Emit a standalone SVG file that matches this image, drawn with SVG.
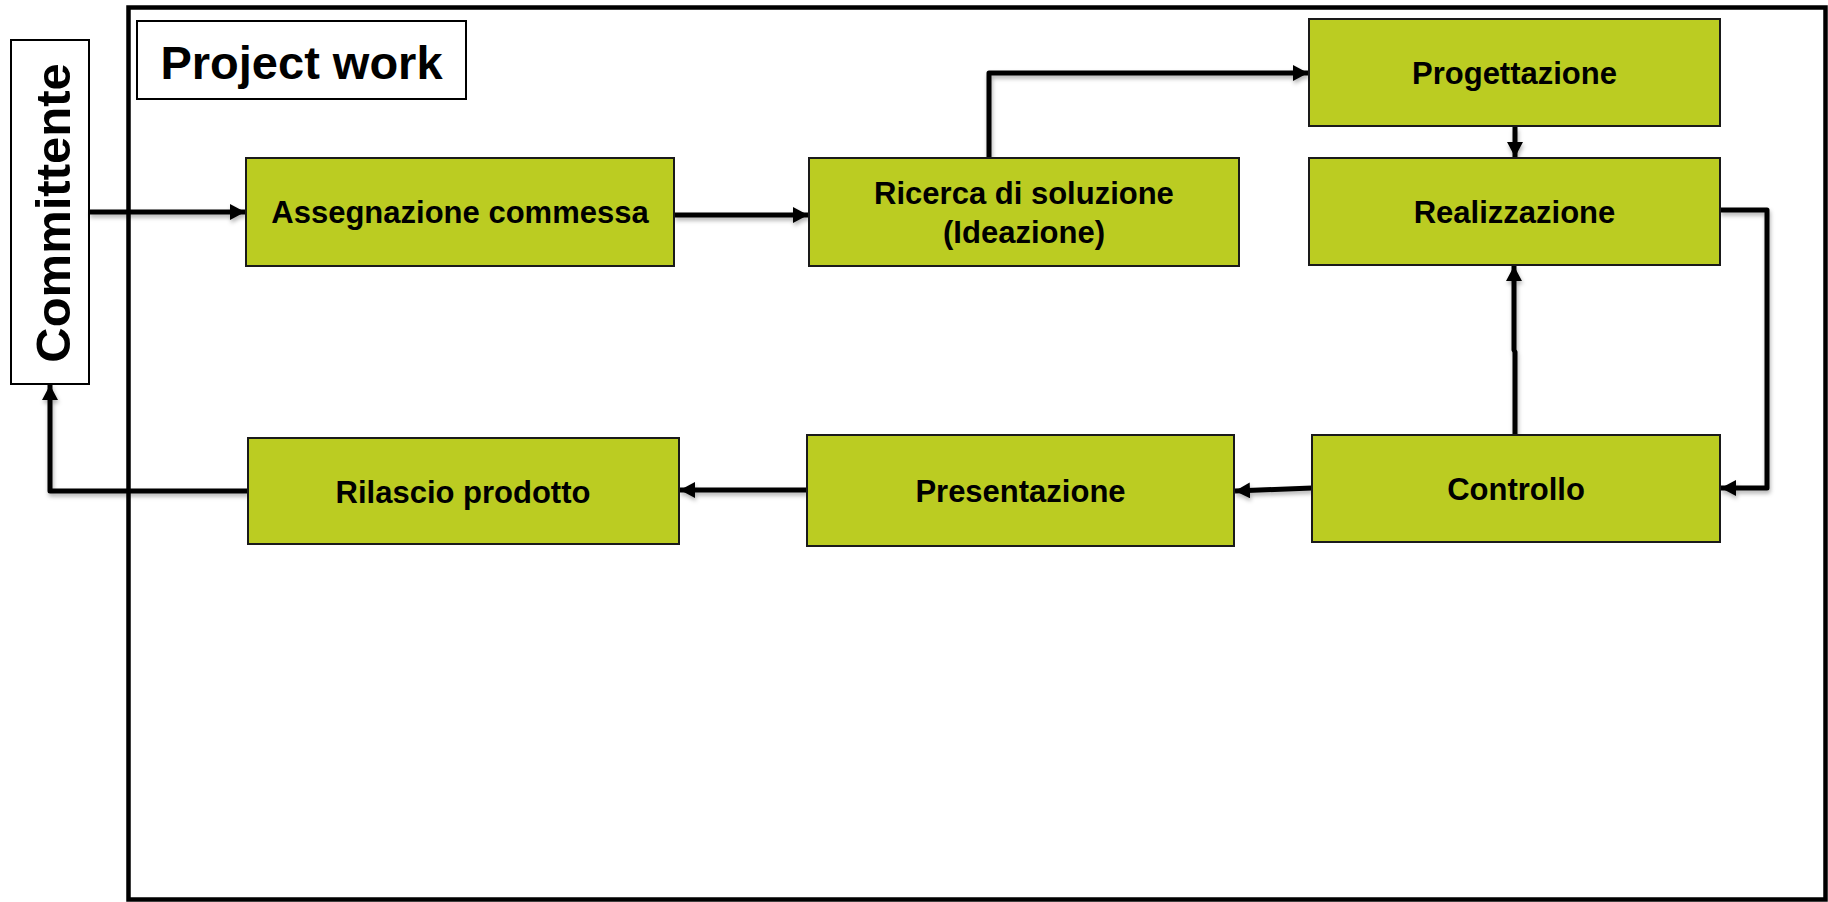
<svg xmlns="http://www.w3.org/2000/svg" width="1828" height="902" viewBox="0 0 1828 902">
<defs>
<style>
.node rect{fill:#BBCC22;stroke:#1a1a1a;stroke-width:2}
.node text{font-family:"Liberation Sans",Arial,sans-serif;font-weight:bold;font-size:31px;fill:#000;text-anchor:middle}
.lbl rect{fill:#fff;stroke:#000;stroke-width:2}
.lbl text{font-family:"Liberation Sans",Arial,sans-serif;font-weight:bold;fill:#000;text-anchor:middle}
.conn path{fill:none;stroke:#000;stroke-width:5;stroke-linejoin:round;marker-end:url(#ah)}
</style>
<marker id="ah" markerUnits="userSpaceOnUse" markerWidth="17" markerHeight="17" refX="15" refY="8" orient="auto">
<path d="M0,0 L15,8 L0,16 z" fill="#000"/>
</marker>
<filter id="sh" x="-5%" y="-5%" width="110%" height="110%">
<feDropShadow dx="1" dy="3" stdDeviation="2" flood-color="#000" flood-opacity="0.3"/>
</filter>
</defs>
<rect width="1828" height="902" fill="#fff"/>
<rect id="frame" x="128.5" y="7.5" width="1697" height="892" fill="none" stroke="#000" stroke-width="4.5"/>
<g id="project-work" class="lbl">
<rect x="137" y="21" width="329" height="78"/>
<text x="301.5" y="79" font-size="47">Project work</text>
</g>
<g id="committente" class="lbl">
<rect x="11" y="40" width="78" height="344"/>
<text transform="translate(70,213) rotate(-90)" font-size="49">Committente</text>
</g>
<g id="connectors" class="conn" filter="url(#sh)">
<path d="M89,212 L245,212"/>
<path d="M674,215 L808,215"/>
<path d="M989,158 L989,73 L1308,73"/>
<path d="M1515,127 L1515,157"/>
<path d="M1720,210 L1767,210 L1767,488 L1721,488"/>
<path d="M1515,435 L1515,352 L1514,350 L1514,266"/>
<path d="M1312,488 L1235,491"/>
<path d="M807,490 L680,490"/>
<path d="M248,491 L50,491 L50,385"/>
</g>
<g id="assegnazione" class="node">
<rect x="246" y="158" width="428" height="108"/>
<text x="460" y="223">Assegnazione commessa</text>
</g>
<g id="ricerca" class="node">
<rect x="809" y="158" width="430" height="108"/>
<text x="1024" y="204">Ricerca di soluzione</text>
<text x="1024" y="243">(Ideazione)</text>
</g>
<g id="progettazione" class="node">
<rect x="1309" y="19" width="411" height="107"/>
<text x="1514.5" y="84">Progettazione</text>
</g>
<g id="realizzazione" class="node">
<rect x="1309" y="158" width="411" height="107"/>
<text x="1514.5" y="223">Realizzazione</text>
</g>
<g id="controllo" class="node">
<rect x="1312" y="435" width="408" height="107"/>
<text x="1516" y="500">Controllo</text>
</g>
<g id="presentazione" class="node">
<rect x="807" y="435" width="427" height="111"/>
<text x="1020.5" y="502">Presentazione</text>
</g>
<g id="rilascio" class="node">
<rect x="248" y="438" width="431" height="106"/>
<text x="463" y="503">Rilascio prodotto</text>
</g>
</svg>
